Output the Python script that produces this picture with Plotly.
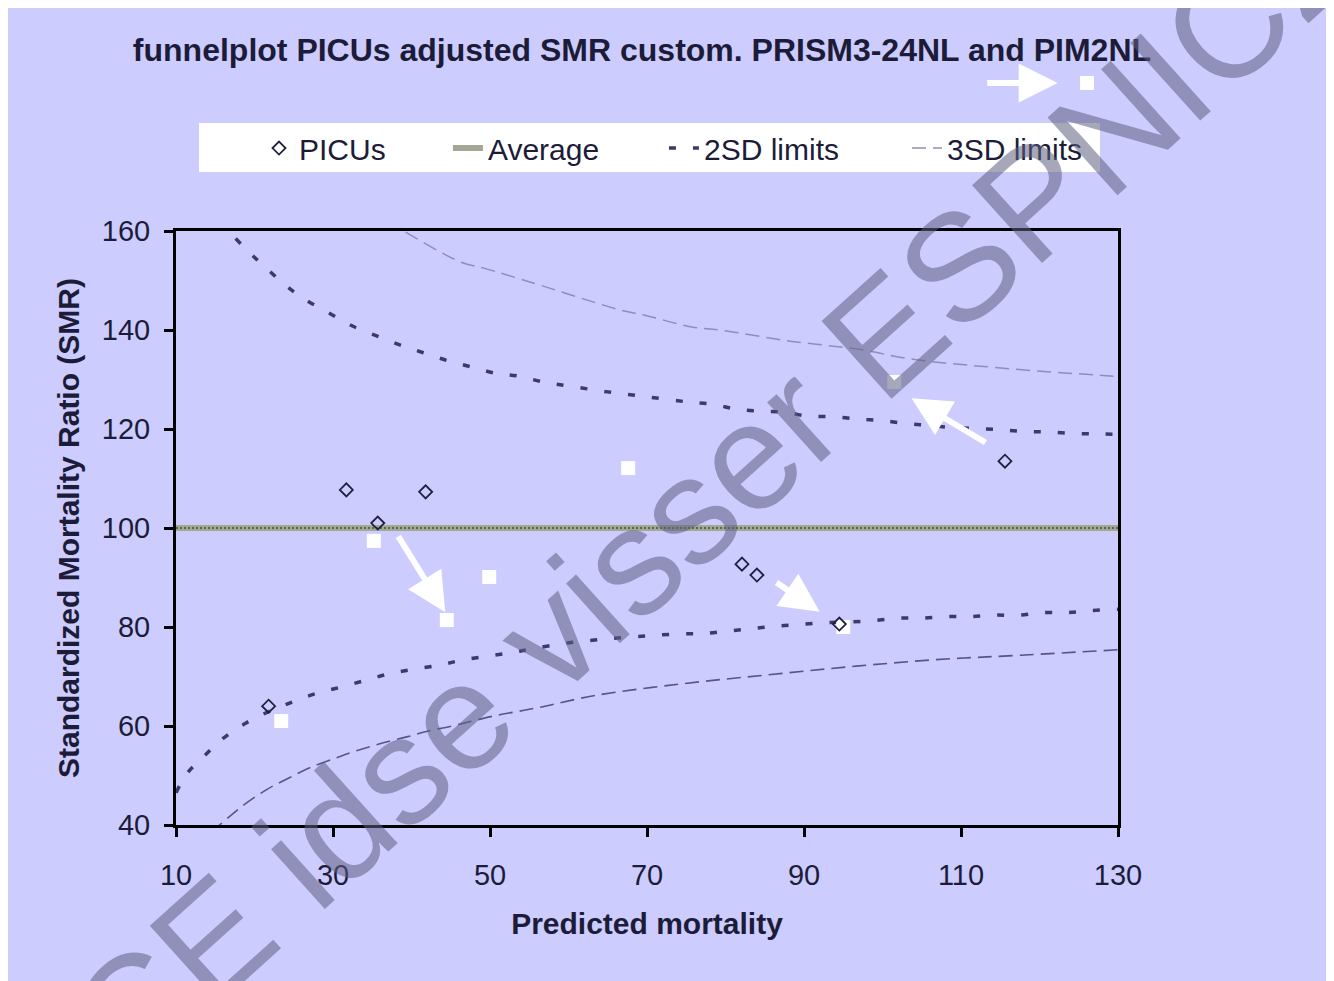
import plotly.graph_objects as go

# ---------------- data ----------------
picu_x = [21.8, 31.7, 35.7, 41.8, 82.1, 84.0, 94.5, 115.6]
picu_y = [64.0, 107.7, 101.0, 107.3, 92.7, 90.5, 80.6, 113.5]

pim2_x = [23.4, 35.2, 44.5, 49.9, 67.6, 95.0, 101.5]
pim2_y = [61.0, 97.4, 81.4, 90.1, 112.1, 80.0, 129.5]

avg_x = [10, 130]
avg_y = [100, 100]

sd2_up_x = [15.5, 19.0, 21.3, 23.9, 26.3, 29.4, 32.2, 35.4, 38.5, 41.5, 44.6, 47.5, 50.6, 53.6,
            56.8, 60.0, 65.0, 70.0, 75.0, 78.4, 81.4, 84.5, 87.6, 90.5, 93.7, 96.9, 99.9, 103.1,
            106.0, 109.0, 112.2, 115.4, 118.4, 121.3, 124.5, 127.7, 130.0]
sd2_up_y = [162.0, 156.2, 152.8, 149.1, 146.3, 143.5, 141.0, 138.9, 137.0, 135.4, 133.8, 132.6, 131.3, 130.7,
            129.5, 128.7, 127.5, 126.5, 125.5, 125.0, 124.0, 123.6, 123.4, 122.6, 122.5, 122.0, 121.7, 121.1,
            120.7, 120.3, 120.1, 119.8, 119.5, 119.4, 119.1, 119.0, 118.9]

sd2_lo_x = [10.0, 11.4, 13.7, 16.0, 18.8, 21.8, 24.9, 27.9, 31.1, 34.3, 37.3, 40.4, 43.6, 46.4, 49.6,
            52.7, 55.7, 60.0, 65.0, 70.0, 74.0, 77.2, 80.4, 83.5, 86.5, 89.5, 92.7, 95.7, 98.8, 102.0,
            105.0, 108.2, 111.2, 114.1, 117.3, 120.5, 123.5, 126.4, 130.0]
sd2_lo_y = [46.5, 50.4, 54.1, 57.5, 60.5, 62.9, 64.9, 66.6, 67.9, 69.3, 70.6, 71.5, 72.3, 73.3, 74.1,
            74.8, 75.7, 76.8, 77.6, 78.2, 78.6, 78.7, 79.2, 79.7, 80.2, 80.5, 80.9, 81.0, 81.3, 81.8,
            81.8, 82.1, 82.1, 82.4, 82.4, 82.9, 82.9, 83.3, 83.6]

sd3_up_x = [37.0, 38.8, 46.3, 49.2, 55.5, 66.7, 69.7, 75.7, 79.3, 88.0, 97.4, 102.2, 106.9, 112.4, 121.5, 127.5, 130.0]
sd3_up_y = [162.0, 160.2, 153.7, 152.5, 149.5, 144.0, 143.0, 140.6, 140.0, 137.8, 136.0, 134.5, 133.5, 132.7, 131.5, 130.9, 130.6]

sd3_lo_x = [14.5, 18.6, 21.6, 24.5, 27.1, 30.5, 33.0, 36.4, 39.4, 41.9, 44.9, 47.5, 50.4, 53.4, 56.4,
            63.5, 74.3, 85.2, 96.0, 106.8, 117.6, 130.0]
sd3_lo_y = [38.5, 44.0, 47.2, 49.6, 51.6, 53.6, 55.0, 56.6, 57.8, 58.9, 59.9, 60.9, 62.0, 62.9, 63.8,
            66.2, 68.5, 70.3, 72.0, 73.4, 74.3, 75.4]

arrow_tail_x = [38.2, 113.3, 86.3]
arrow_tail_y = [98.6, 117.1, 89.2]
arrow_head_x = [44.3, 103.7, 92.0]
arrow_head_y = [83.0, 126.2, 83.1]

x_ticks = [10, 30, 50, 70, 90, 110, 130]
y_ticks = [40, 60, 80, 100, 120, 140, 160]

title_text = "funnelplot PICUs adjusted SMR custom. PRISM3-24NL and PIM2NL"
x_title = "Predicted mortality"
y_title = "Standardized Mortality Ratio (SMR)"
watermark = "CE idse visser ESPNIC2"

# ---------------- styling ----------------
BG = "#CCCCFF"
FONT = "Liberation Sans, Arial, sans-serif"
TXT = "#1c1c38"
LEG_FONT = 30

fig = go.Figure()

# Average (checkered grey-green band)
fig.add_trace(go.Scatter(x=avg_x, y=avg_y, mode="lines", name="Average", legend="legend2",
                         line=dict(color="#a3a894", width=6)))
fig.add_trace(go.Scatter(x=avg_x, y=avg_y, mode="lines", showlegend=False, hoverinfo="skip",
                         line=dict(color="#5c6648", width=2, dash="2px,2px")))

fig.add_trace(go.Scatter(x=sd2_up_x, y=sd2_up_y, mode="lines", name="2SD limits", legend="legend3",
                         line=dict(color="#3a3a6e", width=3.5, dash="7px,17px", shape="spline")))
fig.add_trace(go.Scatter(x=sd2_lo_x, y=sd2_lo_y, mode="lines", showlegend=False,
                         line=dict(color="#3a3a6e", width=3.5, dash="7px,17px", shape="spline")))

fig.add_trace(go.Scatter(x=sd3_up_x, y=sd3_up_y, mode="lines", name="3SD limits", legend="legend4",
                         line=dict(color="#8e8ebc", width=1.5, dash="14px,7px", shape="spline")))
fig.add_trace(go.Scatter(x=sd3_lo_x, y=sd3_lo_y, mode="lines", showlegend=False,
                         line=dict(color="#55558a", width=1.6, dash="14px,7px", shape="spline")))

fig.add_trace(go.Scatter(x=pim2_x, y=pim2_y, mode="markers", showlegend=False, name="PIM2NL",
                         marker=dict(symbol="square", size=14, color="white")))

fig.add_trace(go.Scatter(x=picu_x, y=picu_y, mode="markers", name="PICUs", legend="legend",
                         marker=dict(symbol="diamond-open", size=10, color="#202040",
                                     line=dict(width=1.8, color="#202040"))))

annotations = []
for tx, ty, hx, hy in zip(arrow_tail_x, arrow_tail_y, arrow_head_x, arrow_head_y):
    annotations.append(dict(x=hx, y=hy, ax=tx, ay=ty, xref="x", yref="y", axref="x", ayref="y",
                            text="", showarrow=True, arrowhead=2, arrowsize=1.3, arrowwidth=6,
                            arrowcolor="white", standoff=0))

# small white key arrow + square under the title
annotations.append(dict(x=0.936, y=1.2492, xref="paper", yref="paper", ax=-72, ay=0,
                        text="", showarrow=True, arrowhead=2, arrowsize=1.3, arrowwidth=6,
                        arrowcolor="white", standoff=0))

# watermark
annotations.append(dict(x=0.569, y=0.565, xref="paper", yref="paper", text=watermark,
                        showarrow=False, textangle=-42,
                        font=dict(family=FONT, size=152, color="rgba(95,95,130,0.55)")))

shapes = [
    # legend white box
    dict(type="rect", xref="paper", yref="paper", x0=0.0244, x1=0.9809, y0=1.0993, y1=1.1818,
         fillcolor="white", line=dict(width=0), layer="above"),
    # white key square under title
    dict(type="rect", xref="paper", yref="paper", x0=0.9597, x1=0.9745, y0=1.2374, y1=1.2609,
         fillcolor="white", line=dict(width=0)),
]

def leg(xpos):
    return dict(orientation="h", x=xpos, xanchor="left", y=1.1397, yanchor="middle",
                bgcolor="rgba(0,0,0,0)", borderwidth=0,
                font=dict(family=FONT, size=LEG_FONT, color=TXT))

fig.update_layout(
    width=1326, height=973,
    margin=dict(l=168, r=216, t=223, b=156),
    paper_bgcolor=BG, plot_bgcolor=BG,
    font=dict(family=FONT, color=TXT, size=26),
    title=dict(text="<b>" + title_text + "</b>", xref="container", yref="container",
               x=0.4781, y=0.9568, xanchor="center", yanchor="middle",
               font=dict(family=FONT, size=32, color=TXT)),
    legend=leg(0.0881),
    legend2=leg(0.2887),
    legend3=leg(0.5180),
    legend4=leg(0.7760),
    xaxis=dict(range=[10, 130], tickvals=x_ticks, ticks="outside", ticklen=9, tickwidth=3,
               tickcolor="black", showline=True, linecolor="black", linewidth=3, mirror=True,
               showgrid=False, zeroline=False, tickfont=dict(size=29, color=TXT),
               ticklabelstandoff=13,
               title=dict(text="<b>" + x_title + "</b>", standoff=24, font=dict(size=30, color=TXT))),
    yaxis=dict(range=[40, 160], tickvals=y_ticks, ticks="outside", ticklen=9, tickwidth=3,
               tickcolor="black", showline=True, linecolor="black", linewidth=3, mirror=True,
               showgrid=False, zeroline=False, tickfont=dict(size=29, color=TXT),
               ticklabelstandoff=8,
               title=dict(text="<b>" + y_title + "</b>", standoff=14, font=dict(size=30, color=TXT))),
    annotations=annotations,
    shapes=shapes,
    showlegend=True,
)

fig.write_html("out.html")
